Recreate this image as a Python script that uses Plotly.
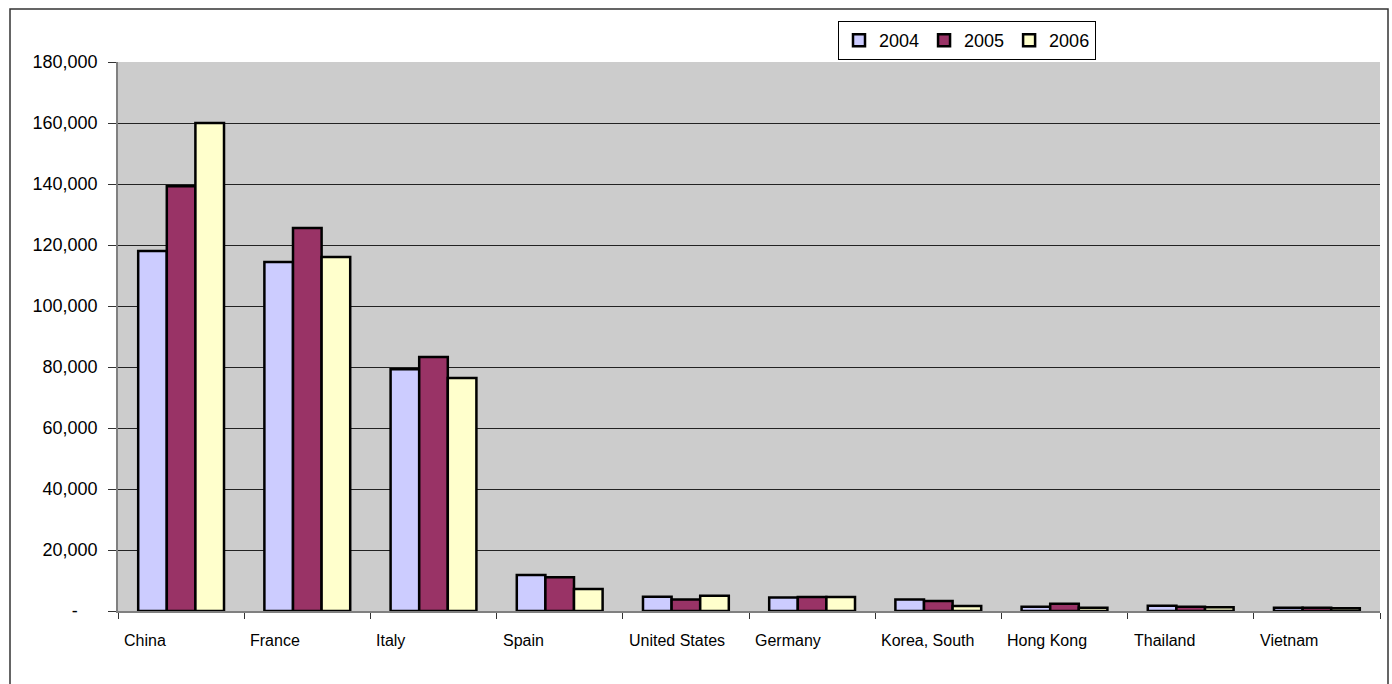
import plotly.graph_objects as go

countries = ["China", "France", "Italy", "Spain", "United States", "Germany",
             "Korea, South", "Hong Kong", "Thailand", "Vietnam"]
years = ["2004", "2005", "2006"]
v2004 = [118000, 114400, 79300, 11800, 4700, 4400, 3800, 1400, 1700, 1100]
v2005 = [139300, 125600, 83300, 11100, 3800, 4600, 3300, 2400, 1400, 1100]
v2006 = [160000, 116100, 76400, 7200, 5000, 4600, 1600, 1100, 1200, 900]
colors = ["#CCCCFF", "#993366", "#FFFFCC"]

tick_vals = [0, 20000, 40000, 60000, 80000, 100000, 120000, 140000, 160000, 180000]
tick_text = ["-" + "\u00a0" * 4, "20,000", "40,000", "60,000", "80,000", "100,000",
             "120,000", "140,000", "160,000", "180,000"]

W, H = 1392, 684
L, R, T, B = 118, 1380, 62, 611

fig = go.Figure()
for name, vals, c in zip(years, [v2004, v2005, v2006], colors):
    fig.add_trace(go.Bar(x=countries, y=vals, name=name,
                         marker=dict(color=c, line=dict(color="black", width=2.5))))

pw = R - L
ph = B - T
annotations = []
for i, c in enumerate(countries):
    annotations.append(dict(x=i - 0.5, y=0, xref="x", yref="paper", text=c,
                            showarrow=False, xanchor="left", yanchor="middle",
                            xshift=4, yshift=-29,
                            font=dict(family="Arial, Liberation Sans", size=16, color="black")))

fig.update_layout(
    width=W, height=H,
    margin=dict(l=L, r=W - R, t=T, b=H - B, pad=0),
    paper_bgcolor="white", plot_bgcolor="#CCCCCC",
    barmode="group", bargap=0.32, bargroupgap=0,
    font=dict(family="Arial, Liberation Sans", color="black"),
    showlegend=True,
    legend=dict(orientation="h", x=(838 - L) / pw, y=(B - 21) / ph,
                xanchor="left", yanchor="top",
                bgcolor="white", bordercolor="black", borderwidth=1,
                font=dict(size=18, color="black"),
                itemwidth=30, tracegroupgap=0),
    annotations=annotations,
    shapes=[dict(type="rect", xref="paper", yref="paper",
                 x0=(10 - L) / pw, x1=(1388 - L) / pw,
                 y0=(B - 700) / ph, y1=(B - 9) / ph,
                 line=dict(color="#333333", width=1.5), fillcolor="rgba(0,0,0,0)",
                 layer="below")],
)
fig.update_xaxes(showticklabels=False, tickson="boundaries", ticks="outside",
                 ticklen=6, tickcolor="#333333", showline=True, linecolor="#808080",
                 linewidth=1.5, showgrid=False)
fig.update_yaxes(range=[0, 180000], tickvals=tick_vals, ticktext=tick_text,
                 ticks="outside", ticklen=8, tickcolor="#333333",
                 ticklabelstandoff=7,
                 showline=True, linecolor="#808080", linewidth=1.5,
                 showgrid=True, gridcolor="#222222", gridwidth=1,
                 zeroline=False, tickfont=dict(size=18, color="black"))

fig.write_html("out.html")
